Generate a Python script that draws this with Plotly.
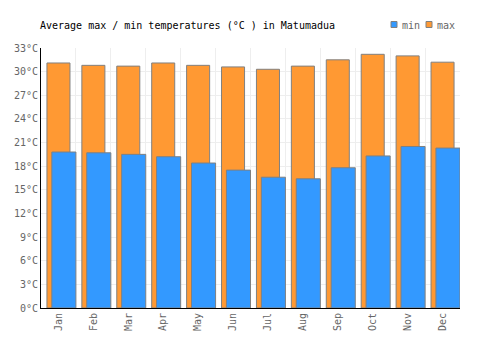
import plotly.graph_objects as go

months = ["Jan", "Feb", "Mar", "Apr", "May", "Jun", "Jul", "Aug", "Sep", "Oct", "Nov", "Dec"]
max_temp = [31.1, 30.8, 30.7, 31.1, 30.8, 30.6, 30.3, 30.7, 31.5, 32.2, 32.0, 31.2]
min_temp = [19.8, 19.7, 19.5, 19.2, 18.4, 17.5, 16.6, 16.4, 17.8, 19.3, 20.5, 20.3]
y_ticks = list(range(0, 34, 3))

FONT = "DejaVu Sans Mono"
W, H = 500, 350
ML, MR, MT, MB = 41, 40, 48, 42
PW, PH = W - ML - MR, H - MT - MB
MIN_COLOR, MAX_COLOR, EDGE = "#3399ff", "#ff9933", "#808080"


def px_x(p):
    return (p - ML) / PW


def px_y(p):
    return (H - MB - p) / PH


fig = go.Figure()
fig.add_trace(go.Bar(
    x=months, y=max_temp, name="max",
    marker=dict(color=MAX_COLOR, line=dict(color=EDGE, width=1)),
    width=0.66, offset=-0.33,
))
fig.add_trace(go.Bar(
    x=months, y=min_temp, name="min",
    marker=dict(color=MIN_COLOR, line=dict(color=EDGE, width=1)),
    width=0.69, offset=-0.19,
))

# legend drawn manually (small square swatches)
legend_items = [("min", MIN_COLOR, 391), ("max", MAX_COLOR, 426)]
for label, color, x0 in legend_items:
    fig.add_shape(type="rect", xref="paper", yref="paper",
                  x0=px_x(x0), x1=px_x(x0 + 6), y0=px_y(27.5), y1=px_y(21.5),
                  fillcolor=color, line=dict(color=EDGE, width=1))
    fig.add_annotation(xref="paper", yref="paper", x=px_x(x0 + 8.5), y=px_y(25),
                       text=label, showarrow=False, xanchor="left", yanchor="middle",
                       font=dict(family=FONT, size=10, color="#666666"))

fig.update_layout(
    width=W, height=H,
    margin=dict(l=ML, r=MR, t=MT, b=MB),
    barmode="overlay",
    plot_bgcolor="white", paper_bgcolor="white",
    font=dict(family=FONT, size=10, color="#666666"),
    title=dict(text="Average max / min temperatures (°C ) in Matumadua",
               x=40 / W, xanchor="left", y=1 - 25 / H, yanchor="middle",
               font=dict(family=FONT, size=10, color="#000000")),
    showlegend=False,
)
fig.update_xaxes(
    type="category", tickson="boundaries", tickangle=-90,
    showgrid=True, gridcolor="#eeeeee", gridwidth=1,
    showline=True, linecolor="#000000", linewidth=1,
    ticks="", range=[-0.5, 11.5],
)
fig.update_yaxes(
    range=[0, 33], tickvals=y_ticks, ticktext=[f"{v}°C" for v in y_ticks],
    showgrid=True, gridcolor="#eeeeee", gridwidth=1,
    showline=True, linecolor="#000000", linewidth=1,
    zeroline=False, ticks="",
)
fig.write_html("out.html")
